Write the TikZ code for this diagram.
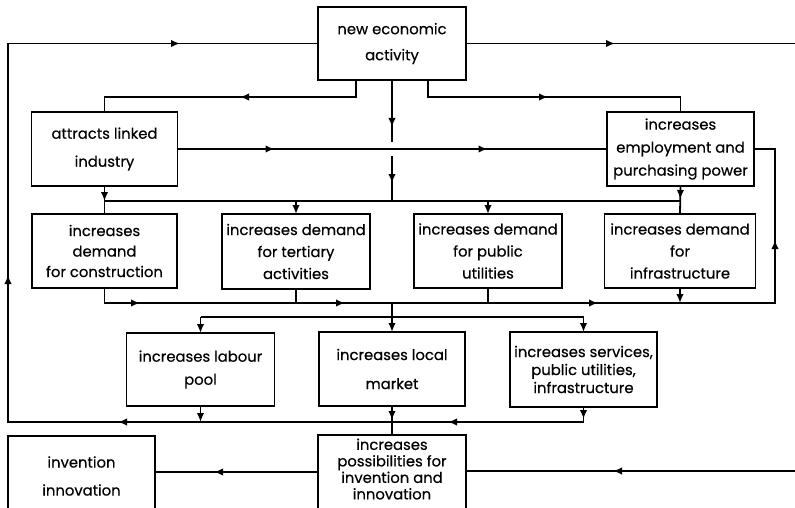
\documentclass[tikz,border=0pt]{standalone}
\usepackage{fontspec}
\setmainfont{Poppins}[FakeBold=0.4]
\usetikzlibrary{arrows.meta,decorations.markings}
\newcommand\bxfont[1]{\fontsize{14.8}{#1}\selectfont}
\tikzset{
  >={Latex[length=9pt,width=7.5pt]},
  box/.style={draw, line width=1.8pt, inner sep=0pt, outer sep=0pt, align=center},
  wire/.style={line width=1.8pt},
  marr/.style={postaction={decorate, decoration={markings, mark=at position #1 with {\arrow{>}}}}}
}
\begin{document}
\begin{tikzpicture}[x=1pt, y=-1pt]
\useasboundingbox (0,0) rectangle (795,508);
\clip (0,0) rectangle (795,508);
\fill[white] (0,0) rectangle (795,508);

% boxes
\node[box, minimum width=148pt, minimum height=73pt, font=\bxfont{26}] (nea) at (392,43.5) {new economic\\activity};
\node[box, minimum width=146pt, minimum height=74pt, font=\bxfont{28}] (ali) at (104.5,149) {attracts linked\\industry};
\node[box, minimum width=147pt, minimum height=74pt, font=\bxfont{23}] (emp) at (680.5,149) {increases\\employment and\\purchasing power};
\node[box, minimum width=145pt, minimum height=74pt, font=\bxfont{20.5}] (con) at (104.5,251) {increases\\demand\\for construction};
\node[box, minimum width=148pt, minimum height=75pt, font=\bxfont{22}] (ter) at (296,251.5) {increases demand\\for tertiary\\activities};
\node[box, minimum width=148pt, minimum height=74pt, font=\bxfont{22}] (pub) at (488,251) {increases demand\\for public\\utilities};
\node[box, minimum width=151pt, minimum height=74pt, font=\bxfont{22}] (inf) at (680,251) {increases demand\\for\\infrastructure};
\node[box, minimum width=148pt, minimum height=73pt, font=\bxfont{23}] (lab) at (200.5,369.5) {increases labour\\pool};
\node[box, minimum width=146pt, minimum height=74pt, font=\bxfont{29}] (loc) at (392,369) {increases local\\market};
\node[box, minimum width=147pt, minimum height=75pt, font=\bxfont{18}] (ser) at (583.5,369.5) {increases services,\\public utilities,\\infrastructure};
\node[box, minimum width=147pt, minimum height=80pt, font=\bxfont{28}] (inv) at (81.5,476) {invention\\innovation};
\node[box, minimum width=148pt, minimum height=77pt, text depth=9pt, font=\bxfont{16.5}] (pos) at (392,473.5) {increases\\possibilities for\\invention and\\innovation};

% helper coordinates
\coordinate (outR) at (797,43.5);
\coordinate (inR) at (797,471);
\coordinate (yBot) at (0,472);
\coordinate (tl) at (8,43.5);
\coordinate (bl) at (8,422);
\coordinate (busA) at (0,201);
\coordinate (busB) at (0,303);
\coordinate (busC) at (0,317);
\coordinate (rc) at (775,303);
\coordinate (c1) at (392,142);
\coordinate (c2) at (392,156);

% top
\draw[wire, marr=149pt] (nea.east) -- (outR);
\draw[wire, marr=133pt] ([xshift=-36pt]nea.south) -- ++(0,17) -| (ali.north);
\draw[wire, marr=137pt] ([xshift=36pt]nea.south) -- ++(0,17) -| (emp.north);
\draw[wire, marr=47pt] (nea.south) -- (c1);
\draw[wire, marr=27pt] (c2) -- (c2 |- busA);
\draw[wire, marr=97pt, marr=310pt] (ali.east) -- (emp.west);

% bus A
\draw[wire, marr=15pt] (ali.south) -- (con.north);
\draw[wire, marr=13pt] (emp.south) -- (inf.north);
\draw[wire] (ali.south |- busA) -- (emp.south |- busA);
\draw[wire, ->] (ter.north |- busA) -- (ter.north);
\draw[wire, ->] (pub.north |- busA) -- (pub.north);

% bus B
\draw[wire, marr=50.5pt, marr=255.5pt, marr=508.5pt, marr=748.5pt] (con.south) |- (rc) |- (emp.east);
\draw[wire] (ter.south) -- (ter.south |- busB);
\draw[wire] (pub.south) -- (pub.south |- busB);
\draw[wire, ->] (inf.south) -- (inf.south |- busB);
\draw[wire, ->] (loc.north |- busB) -- (loc.north);
\draw[wire] (lab.north |- busC) -- (ser.north |- busC);
\draw[wire, ->] (lab.north |- busC) -- (lab.north);
\draw[wire, ->] (ser.north |- busC) -- (ser.north);

% bottom
\draw[wire, ->] (lab.south) -- (lab.south |- bl);
\draw[wire, marr=14pt] (loc.south) -- (pos.north);
\draw[wire, marr=12pt, marr=150.5pt, marr=480.5pt, marr=737.5pt, marr=1141pt] (ser.south) |- (bl) -- (tl) -- (nea.west);
\draw[wire, marr=184pt] (inR) -- (inR -| pos.east);
\draw[wire, marr=104pt] (pos.west |- yBot) -- (inv.east |- yBot);
\end{tikzpicture}
\end{document}
